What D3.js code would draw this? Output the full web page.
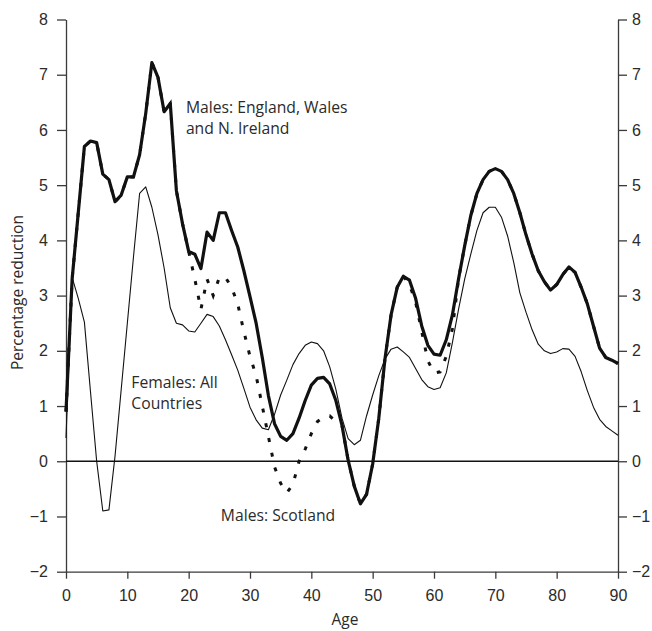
<!DOCTYPE html>
<html>
<head>
<meta charset="utf-8">
<script src="https://cdn.jsdelivr.net/npm/d3@7"></script>
<style>
  html, body { margin: 0; padding: 0; background: #fff; }
  svg { display: block; font-family: "Open Sans", "Noto Sans", sans-serif; }
  .axis text { font-size: 16px; fill: #2b2b2b; }
  .axis path, .axis line { stroke: #3a3a3a; stroke-width: 1.3; }
</style>
</head>
<body>
<svg id="chart" width="652" height="631"></svg>
<script>
// Age in years, 0 to 90
const ages = d3.range(0, 91);

// Percentage reduction by single year of age
const malesEWNI = [
  0.9, 3.3, 4.5, 5.7, 5.8, 5.77, 5.2, 5.1, 4.7, 4.82,
  5.15, 5.15, 5.55, 6.3, 7.22, 6.95, 6.33, 6.48, 4.9, 4.3,
  3.8, 3.75, 3.49, 4.15, 4.0, 4.5, 4.5, 4.18, 3.88, 3.45,
  2.98, 2.5, 1.88, 1.19, 0.68, 0.45, 0.38, 0.5, 0.78, 1.1,
  1.38, 1.5, 1.52, 1.4, 1.1, 0.65, 0.02, -0.45, -0.77, -0.6,
  -0.05, 0.78, 1.85, 2.65, 3.15, 3.35, 3.28, 2.95, 2.45, 2.1,
  1.94, 1.92, 2.2, 2.65, 3.3, 3.9, 4.45, 4.85, 5.1, 5.25,
  5.3, 5.25, 5.1, 4.85, 4.5, 4.1, 3.75, 3.45, 3.25, 3.1,
  3.2, 3.38, 3.52, 3.42, 3.15, 2.85, 2.45, 2.05, 1.88, 1.83,
  1.77
];

const malesScotland = [
  0.9, 3.3, 4.5, 5.7, 5.8, 5.77, 5.2, 5.1, 4.7, 4.82,
  5.15, 5.15, 5.55, 6.3, 7.22, 6.95, 6.33, 6.48, 4.9, 4.3,
  3.8, 3.3, 2.75, 3.3, 3.0, 3.33, 3.33, 3.15, 2.85, 2.35,
  1.9, 1.55, 1.0, 0.45, -0.1, -0.4, -0.57, -0.42, 0.0, 0.22,
  0.5, 0.72, 0.8, 0.82, 0.72, 0.65, 0.02, -0.45, -0.77, -0.6,
  -0.05, 0.78, 1.85, 2.65, 3.15, 3.35, 3.2, 2.88, 2.35, 1.82,
  1.6, 1.62, 1.9, 2.4, 3.3, 3.9, 4.45, 4.85, 5.1, 5.25,
  5.3, 5.25, 5.1, 4.85, 4.5, 4.1, 3.75, 3.45, 3.25, 3.1,
  3.2, 3.38, 3.52, 3.42, 3.15, 2.85, 2.45, 2.05, 1.88, 1.83,
  1.77
];

const femalesAll = [
  0.42, 3.33, 2.95, 2.52, 1.25, 0.0, -0.9, -0.88, 0.1, 1.3,
  2.5, 3.7, 4.85, 4.97, 4.6, 4.1, 3.5, 2.78, 2.5, 2.47,
  2.36, 2.34, 2.5, 2.66, 2.62, 2.45, 2.2, 1.93, 1.65, 1.32,
  0.98, 0.75, 0.6, 0.57, 0.85, 1.2, 1.47, 1.75, 1.95, 2.1,
  2.16, 2.13, 2.0, 1.71, 1.3, 0.78, 0.41, 0.3, 0.38, 0.82,
  1.2, 1.55, 1.85, 2.03, 2.07, 1.98, 1.88, 1.68, 1.48, 1.35,
  1.3, 1.33, 1.6, 2.15, 2.75, 3.3, 3.75, 4.18, 4.5, 4.6,
  4.6, 4.42, 4.08, 3.6, 3.05, 2.7, 2.38, 2.12, 2.0, 1.95,
  1.98, 2.04, 2.03, 1.9, 1.62, 1.28, 0.98, 0.76, 0.63, 0.55,
  0.47
];

const xTicks = [0, 10, 20, 30, 40, 50, 60, 70, 80, 90];
const yTicks = [-2, -1, 0, 1, 2, 3, 4, 5, 6, 7, 8];

// Series labels, anchored in data coordinates (age, value at baseline)
const seriesLabels = [
  { lines: ["Males: England, Wales", "and N. Ireland"], age: 19.55, value: 6.3 },
  { lines: ["Females: All", "Countries"], age: 10.65, value: 1.32 },
  { lines: ["Males: Scotland"], age: 25.25, value: -1.08 }
];

const svg = d3.select("#chart");
const margin = { top: 19.5, right: 34, bottom: 59.3, left: 66 };
const W = 652, H = 631;

const x = d3.scaleLinear().domain([0, 90]).range([margin.left, W - margin.right]);
const y = d3.scaleLinear().domain([-2, 8]).range([H - margin.bottom, margin.top]);

const fmt = d => (d < 0 ? "\u2212" + Math.abs(d) : String(d));

// Axes
svg.append("g").attr("class", "axis")
  .attr("transform", `translate(${margin.left},0)`)
  .call(d3.axisLeft(y).tickValues(yTicks).tickFormat(fmt).tickSize(9).tickSizeOuter(0).tickPadding(9));

svg.append("g").attr("class", "axis")
  .attr("transform", `translate(${W - margin.right},0)`)
  .call(d3.axisRight(y).tickValues(yTicks).tickFormat(fmt).tickSize(9).tickSizeOuter(0).tickPadding(5));

svg.append("g").attr("class", "axis")
  .attr("transform", `translate(0,${H - margin.bottom})`)
  .call(d3.axisBottom(x).tickValues(xTicks).tickFormat(fmt).tickSize(7).tickSizeOuter(0).tickPadding(11));

// Zero reference line
svg.append("line")
  .attr("x1", x(0)).attr("x2", x(90))
  .attr("y1", y(0)).attr("y2", y(0))
  .attr("stroke", "#111").attr("stroke-width", 1.3);

// Axis titles
svg.append("text")
  .attr("x", (x(0) + x(90)) / 2 + 3).attr("y", 625)
  .attr("text-anchor", "middle")
  .style("font-size", "15.5px").style("fill", "#2b2b2b")
  .text("Age");

svg.append("text")
  .attr("transform", `translate(23,${(y(-2) + y(8)) / 2 - 3}) rotate(-90)`)
  .attr("text-anchor", "middle")
  .style("font-size", "15.5px").style("fill", "#2b2b2b")
  .text("Percentage reduction");

const line = d3.line()
  .x((d, i) => x(ages[i]))
  .y(d => y(d))
  .curve(d3.curveLinear);

// Females (thin line)
svg.append("path")
  .datum(femalesAll)
  .attr("d", line)
  .attr("fill", "none")
  .attr("stroke", "#111")
  .attr("stroke-width", 1.1)
  .attr("stroke-linejoin", "round");

// Males, Scotland (heavy dotted line)
svg.append("path")
  .datum(malesScotland)
  .attr("d", line)
  .attr("fill", "none")
  .attr("stroke", "#111")
  .attr("stroke-width", 3)
  .attr("stroke-dasharray", "4,11");

// Males, England, Wales and N. Ireland (heavy line)
svg.append("path")
  .datum(malesEWNI)
  .attr("d", line)
  .attr("fill", "none")
  .attr("stroke", "#111")
  .attr("stroke-width", 3.2)
  .attr("stroke-linejoin", "round");

// Series labels
seriesLabels.forEach(l => {
  const t = svg.append("text")
    .attr("x", x(l.age)).attr("y", y(l.value))
    .style("font-size", "15.7px").style("fill", "#2b2b2b");
  l.lines.forEach((s, i) => {
    t.append("tspan").attr("x", x(l.age)).attr("dy", i === 0 ? 0 : 21).text(s);
  });
});
</script>
</body>
</html>
